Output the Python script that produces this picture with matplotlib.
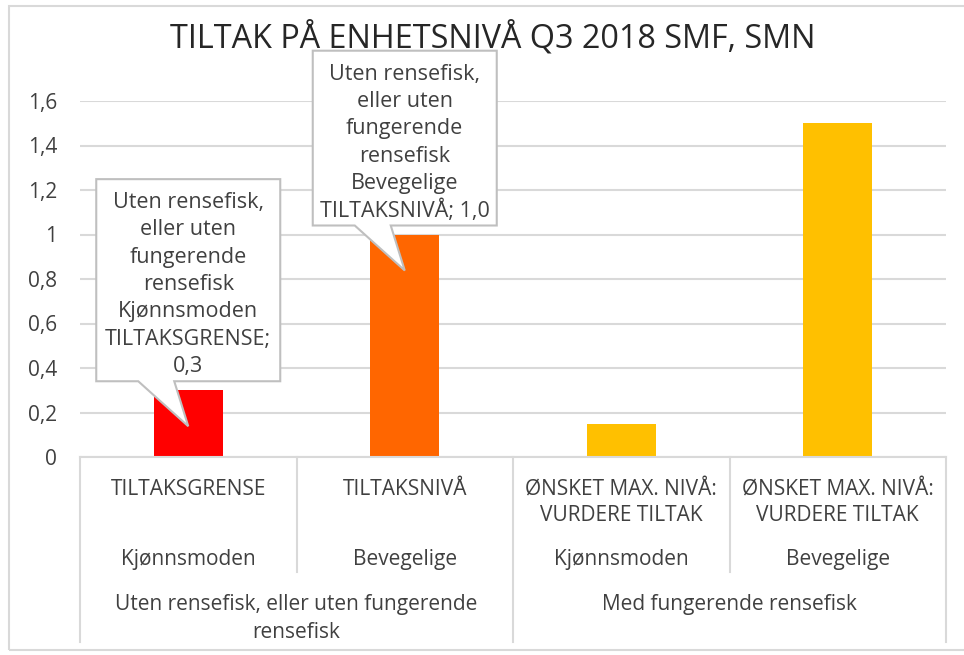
import matplotlib
matplotlib.use("Agg")
import matplotlib.pyplot as plt
from matplotlib.patches import Polygon, Rectangle
from matplotlib.transforms import IdentityTransform

title = "TILTAK PÅ ENHETSNIVÅ Q3 2018 SMF, SMN"
level1 = ["TILTAKSGRENSE", "TILTAKSNIVÅ", "ØNSKET MAX. NIVÅ:\nVURDERE TILTAK", "ØNSKET MAX. NIVÅ:\nVURDERE TILTAK"]
level2 = ["Kjønnsmoden", "Bevegelige", "Kjønnsmoden", "Bevegelige"]
groups = ["Uten rensefisk, eller uten fungerende\nrensefisk", "Med fungerende rensefisk"]
group_sizes = [2, 2]
values = [0.3, 1.0, 0.15, 1.5]
colors = ["#FF0000", "#FF6600", "#FFC000", "#FFC000"]
yticks = [0, 0.2, 0.4, 0.6, 0.8, 1.0, 1.2, 1.4, 1.6]
ytick_labels = ["0", "0,2", "0,4", "0,6", "0,8", "1", "1,2", "1,4", "1,6"]
callouts = {
    0: "Uten rensefisk,\neller uten\nfungerende\nrensefisk\nKjønnsmoden\nTILTAKSGRENSE;\n0,3",
    1: "Uten rensefisk,\neller uten\nfungerende\nrensefisk\nBevegelige\nTILTAKSNIVÅ; 1,0",
}

W, H = 964, 655
DPI = 100
fig = plt.figure(figsize=(W / DPI, H / DPI), dpi=DPI)
FONT = "Open Sans"
TXT = "#404040"
GRID = "#D9D9D9"
FS = 15

# axes in pixel coordinates: left 80, right 946, top (1.6) 101, bottom (0) 457
L, R, T, B = 80, 946, 101, 457
ax = fig.add_axes([L / W, 1 - B / H, (R - L) / W, (B - T) / H])
ax.set_xlim(-0.5, len(values) - 0.5)
ax.set_ylim(0, 1.6)

ax.bar(range(len(values)), values, width=0.32, color=colors, zorder=2)

ax.set_yticks(yticks)
ax.set_yticklabels(ytick_labels, fontfamily=FONT, fontsize=FS, color=TXT)
ax.tick_params(axis="y", length=0, pad=16.5)
ax.set_xticks([])
for s in ["top", "right", "left"]:
    ax.spines[s].set_visible(False)
ax.spines["bottom"].set_color(GRID)
ax.spines["bottom"].set_linewidth(1.5)
ax.yaxis.grid(True, color=GRID, linewidth=1.5, zorder=0)
ax.set_axisbelow(True)

# outer frame
fig.patches.append(Rectangle((9, H - 650), 980, 644, transform=IdentityTransform(),
                             fill=False, edgecolor="#D9D9D9", linewidth=1.5))

fig.text(493 / W, 1 - 38 / H, title, ha="center", va="center", fontfamily=FONT,
         fontsize=23.3, color="#262626")

# multi-level category axis
trans = ax.get_xaxis_transform()
def ypx(py):
    # axes-y coordinate for a pixel row (image coords, y down)
    return (B - py) / (B - T)

n = len(values)
bounds = [-0.5]
acc = -0.5
for g in group_sizes:
    acc += g
    bounds.append(acc)
for i in range(n + 1):
    xb = i - 0.5
    bottom = 642 if xb in bounds else 572
    ax.plot([xb, xb], [0, ypx(bottom)], transform=trans, color=GRID, lw=1.5,
            clip_on=False)

def label(x, py, s):
    ax.text(x, ypx(py), s, transform=trans, ha="center", va="center_baseline",
            fontfamily=FONT, fontsize=FS, color=TXT, clip_on=False)

for i, (a, b) in enumerate(zip(level1, level2)):
    for k, part in enumerate(a.split("\n")):
        label(i, 487 + 26 * k, part)
    label(i, 557, b)

start = 0
for g, size in zip(groups, group_sizes):
    cx = start + (size - 1) / 2
    for k, part in enumerate(g.split("\n")):
        label(cx, 602 + 28 * k, part)
    start += size

# callouts (display-pixel geometry relative to bar top)
fig.canvas.draw()
LS = 27.3
for i, txt in callouts.items():
    px, py = ax.transData.transform((i, values[i]))
    lines = txt.split("\n")
    h = len(lines) * LS + 11
    bl, br = px - 92, px + 92
    bb = py + 9
    bt = bb + h
    verts = [(bl, bb), (px - 50, bb), (px, py - 36), (px - 14, bb), (br, bb), (br, bt), (bl, bt)]
    poly = Polygon(verts, closed=True, transform=IdentityTransform(), facecolor="white",
                   edgecolor="#BFBFBF", linewidth=1.5, zorder=5)
    fig.patches.append(poly)
    for k, line in enumerate(lines):
        yy = bt - 21 - LS * k
        fig.text(px / W, yy / H, line, ha="center", va="center_baseline", fontfamily=FONT,
                 fontsize=15.5, color=TXT, zorder=6)

fig.savefig("out.png", dpi=DPI)
